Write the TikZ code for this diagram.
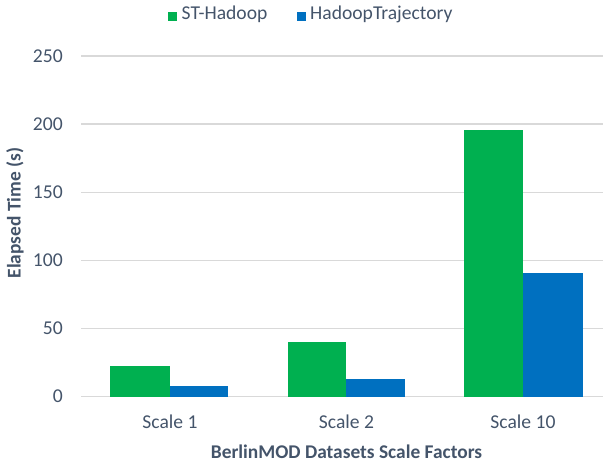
\documentclass[tikz,border=0pt]{standalone}
\usepackage{fontspec}
\setmainfont{Carlito}
\definecolor{stgreen}{RGB}{0,176,80}
\definecolor{htblue}{RGB}{0,112,192}
\definecolor{txtgrey}{RGB}{68,84,106}
\definecolor{gridgrey}{RGB}{217,217,217}
\begin{document}
\begin{tikzpicture}[x=1pt,y=-1pt,
  ticklbl/.style={font=\fontsize{19.6}{22}\selectfont, text=txtgrey, anchor=east, inner sep=0pt},
  catlbl/.style={font=\fontsize{19.6}{22}\selectfont, text=txtgrey, inner sep=0pt},
  axtitle/.style={font=\bfseries\fontsize{19.4}{22}\selectfont, text=txtgrey, inner sep=0pt},
  legtext/.style={font=\fontsize{19.6}{22}\selectfont, text=txtgrey, anchor=base west, inner sep=0pt},
  gridline/.style={draw=gridgrey, line width=1.4pt},
  greenbar/.style={fill=stgreen},
  bluebar/.style={fill=htblue}]
\useasboundingbox (0,0) rectangle (603,463);
% grid lines and tick labels
\foreach \v [count=\i from 0] in {0,50,100,150,200,250}{
  \pgfmathsetmacro{\yy}{396.5-\v*1.362}
  \draw[gridline] (81,\yy) -- (603,\yy);
  \node[ticklbl] (t\i) at (63,\yy) {\v};
}
% bars
\def\sc{1.362}
\fill[greenbar] (110.3,396.5) rectangle (169.7,{396.5-22.6*\sc});
\fill[bluebar]  (169.7,396.5) rectangle (228.3,{396.5-7.5*\sc});
\fill[greenbar] (287.7,396.5) rectangle (346.3,{396.5-40*\sc});
\fill[bluebar]  (346.3,396.5) rectangle (404.7,{396.5-13*\sc});
\fill[greenbar] (464,396.5) rectangle (522.7,{396.5-195.7*\sc});
\fill[bluebar]  (522.7,396.5) rectangle (582.7,{396.5-90.5*\sc});
% category labels
\node[catlbl] (c1) at (170,421.5) {Scale 1};
\node[catlbl] (c2) at (346.5,421.5) {Scale 2};
\node[catlbl] (c3) at (523,421.5) {Scale 10};
% axis titles
\node[axtitle] (xt) at (346.5,451.5) {BerlinMOD Datasets Scale Factors};
\node[axtitle, rotate=90] (yt) at (15,213) {Elapsed Time (s)};
% legend
\fill[greenbar] (167.5,11.5) rectangle (176.5,20.5);
\node[legtext] (l1) at (181.5,19.5) {ST-Hadoop};
\fill[bluebar] (297,11.5) rectangle (306,20.5);
\node[legtext] (l2) at (310,19.5) {HadoopTrajectory};
\end{tikzpicture}
\end{document}
